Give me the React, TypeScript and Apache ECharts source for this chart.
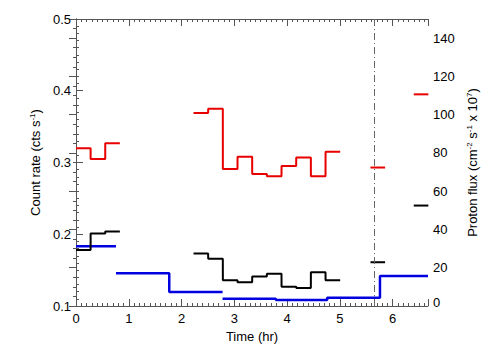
import React, { useEffect, useRef } from "react";
import * as echarts from "echarts";

// ---- data ----
const timeMax = 6.67;
const eventTime = 5.655;

// fine bins (count rate), hours
const fineBinStart = [0, 0.277, 0.554, 2.227, 2.505, 2.783, 3.061, 3.339, 3.617, 3.895, 4.173, 4.451, 4.729, 5.58, 6.4];
const fineBinWidth = 0.277;
const countRed = [0.32, 0.305, 0.327, 0.369, 0.375, 0.291, 0.308, 0.284, 0.281, 0.295, 0.307, 0.281, 0.315, 0.293, 0.395];
const countBlack = [0.178, 0.201, 0.204, 0.173, 0.166, 0.136, 0.133, 0.141, 0.145, 0.127, 0.125, 0.147, 0.136, 0.161, 0.24];

// coarse bins (proton flux, x 10^7)
const coarseBinStart = [0, 0.757, 1.767, 2.777, 3.787, 4.76, 5.76];
const coarseBinEnd = [0.757, 1.767, 2.777, 3.787, 4.76, 5.76, 6.67];
const protonFlux = [31.2, 17.1, 7.3, 3.8, 3.1, 4.3, 15.7];
const protonJoinNext = [false, true, false, true, true, true];

const FONT = "Liberation Sans, Arial, Helvetica, sans-serif";

function buildRuns(starts: number[], ends: number[], values: number[], joins: boolean[]) {
  const runs: number[][][] = [];
  let cur: number[][] = [];
  for (let i = 0; i < starts.length; i++) {
    cur.push([starts[i], values[i]], [ends[i], values[i]]);
    if (i === starts.length - 1 || !joins[i]) {
      runs.push(cur);
      cur = [];
    }
  }
  return runs;
}

export default function App() {
  const ref = useRef<HTMLDivElement>(null);
  useEffect(() => {
    document.body.style.margin = "0";
    const chart = echarts.init(ref.current!, null, { renderer: "svg" });

    const fineEnd = fineBinStart.map((s) => s + fineBinWidth);
    const fineJoin = fineBinStart.slice(0, -1).map((s, i) => Math.abs(fineBinStart[i + 1] - fineEnd[i]) < 0.02);

    const redRuns = buildRuns(fineBinStart, fineEnd, countRed, fineJoin);
    const blackRuns = buildRuns(fineBinStart, fineEnd, countBlack, fineJoin);
    const blueRuns = buildRuns(coarseBinStart, coarseBinEnd, protonFlux, protonJoinNext);

    const mk = (data: number[][], color: string, yIdx: number, width: number) => ({
      type: "line",
      data,
      yAxisIndex: yIdx,
      symbol: "none",
      silent: true,
      lineStyle: { color, width },
      z: 3,
    });

    const series: any[] = [
      ...blueRuns.map((r) => mk(r, "#0000e0", 1, 2.5)),
      ...blackRuns.map((r) => mk(r, "#000000", 0, 2)),
      ...redRuns.map((r) => mk(r, "#e80000", 0, 2)),
      {
        type: "line",
        data: [],
        markLine: {
          silent: true,
          symbol: "none",
          label: { show: false },
          lineStyle: { color: "#666", width: 1, type: [7, 3, 1, 3] },
          data: [{ xAxis: eventTime }],
        },
      },
    ];

    const axisLine = { show: true, lineStyle: { color: "#555", width: 1 } };
    const tick = { show: true, inside: true, length: 7, lineStyle: { color: "#555" } };
    const label = { color: "#000", fontSize: 13, fontFamily: FONT };
    const rich = { sup: { fontSize: 8, fontFamily: FONT, color: "#000", verticalAlign: "top", lineHeight: 14 } };

    chart.setOption({
      animation: false,
      backgroundColor: "#fff",
      grid: { left: 76, right: 76, top: 19, bottom: 54 },
      xAxis: [
        {
          type: "value",
          min: 0,
          max: timeMax,
          interval: 1,
          position: "bottom",
          name: "Time (hr)",
          nameLocation: "middle",
          nameGap: 21,
          nameTextStyle: { ...label },
          axisLine,
          axisTick: tick,
          minorTick: { show: true, splitNumber: 10, length: 3, lineStyle: { color: "#555" } },
          axisLabel: { ...label, margin: 6, showMaxLabel: false, formatter: (v: number) => String(Math.round(v)) },
          splitLine: { show: false },
        },
        {
          type: "value",
          min: 0,
          max: timeMax,
          interval: 1,
          position: "top",
          axisLine,
          axisTick: tick,
          minorTick: { show: true, splitNumber: 10, length: 3, lineStyle: { color: "#555" } },
          axisLabel: { show: false },
          splitLine: { show: false },
        },
      ],
      yAxis: [
        {
          type: "value",
          min: 0.1,
          max: 0.5,
          interval: 0.1,
          position: "left",
          name: "Count rate (cts s{sup|-1})",
          nameLocation: "middle",
          nameRotate: 90,
          nameGap: 32,
          nameTextStyle: { ...label, lineHeight: 14, rich },
          axisLine,
          axisTick: tick,
          minorTick: { show: true, splitNumber: 10, length: 3, lineStyle: { color: "#555" } },
          axisLabel: { ...label, margin: 5, formatter: (v: number) => v.toFixed(1) },
          splitLine: { show: false },
        },
        {
          type: "value",
          min: 0,
          max: 150,
          interval: 20,
          position: "right",
          name: "Proton flux (cm{sup|-2} s{sup|-1} x 10{sup|7})",
          nameLocation: "middle",
          nameRotate: 90,
          nameGap: 30,
          nameTextStyle: { ...label, lineHeight: 14, rich },
          axisLine,
          axisTick: tick,
          minorTick: { show: true, splitNumber: 4, length: 3, lineStyle: { color: "#555" } },
          axisLabel: {
            ...label,
            margin: 5,
            showMaxLabel: false,
            formatter: (v: number) => (Math.round(v) === 0 ? "{z|0}" : String(Math.round(v))),
            rich: { z: { fontSize: 13, fontFamily: FONT, color: "#000", padding: [0, 0, 8, 0] } },
          },
          splitLine: { show: false },
        },
      ],
      series,
    });
    return () => chart.dispose();
  }, []);
  return <div ref={ref} style={{ width: 504, height: 360 }} />;
}
